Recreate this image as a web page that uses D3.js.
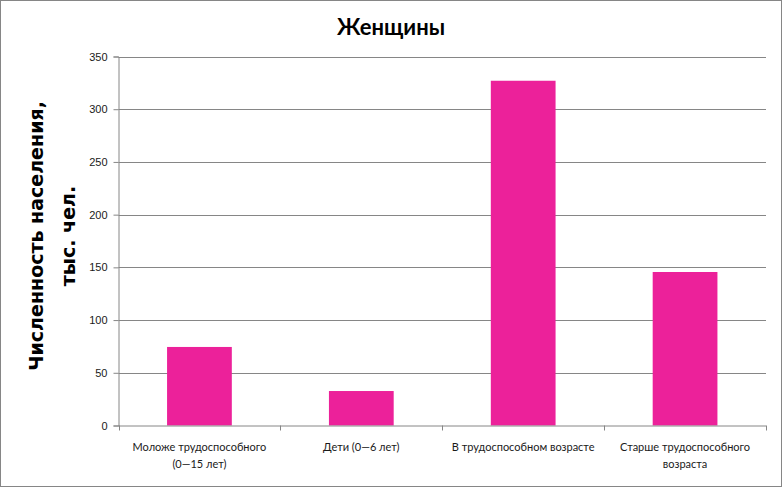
<!DOCTYPE html>
<html><head><meta charset="utf-8">
<script src="https://cdn.jsdelivr.net/npm/d3@7"></script>
<style>body{margin:0;background:#fff;}svg{display:block;font-family:Lato,"Open Sans",sans-serif;}</style>
</head><body>
<svg id="c" width="782" height="487"></svg>
<script>
const categories = [["Моложе трудоспособного","(0—15 лет)"],["Дети (0—6 лет)"],["В трудоспособном  возрасте"],["Старше трудоспособного","возраста"]];
const values = [74.5, 32.7, 327, 145.6];
const yTicks = [0,50,100,150,200,250,300,350];
const title = "Женщины";
const yTitle = ["Численность населения,","тыс. чел."];

const svg = d3.select("#c");
svg.append("rect").attr("x",0.5).attr("y",0.5).attr("width",781).attr("height",486).attr("fill","#fff").attr("stroke","#868686");
const L=118.5, R=766, T=56.5, B=425.5;
const x = d3.scaleBand().domain(d3.range(categories.length)).range([L,R]).padding(0);
const y = d3.scaleLinear().domain([0,350]).range([B,T]);
const grey="#868686";
// gridlines
svg.append("g").selectAll("line").data(yTicks.filter(d=>d>0)).join("line")
  .attr("x1",L).attr("x2",R).attr("y1",d=>Math.round(y(d))+0.5).attr("y2",d=>Math.round(y(d))+0.5)
  .attr("stroke",grey).attr("stroke-width",1);
// bars
svg.append("g").selectAll("rect").data(values).join("rect")
  .attr("x",(d,i)=>x(i)+x.bandwidth()*0.3).attr("width",x.bandwidth()*0.4)
  .attr("y",d=>y(d)).attr("height",d=>B-y(d)).attr("fill","#EC219A");
// y axis
const ya = svg.append("g").attr("transform",`translate(${L},0)`).call(d3.axisLeft(y).tickValues(yTicks).tickSize(5).tickPadding(6));
ya.select(".domain").attr("stroke",grey);
ya.selectAll(".tick line").attr("stroke",grey);
ya.selectAll("text").attr("font-size",11).attr("fill","#1a1a1a");
// x axis
svg.append("line").attr("x1",L).attr("x2",R).attr("y1",B+0.5).attr("y2",B+0.5).attr("stroke",grey);
svg.append("g").selectAll("line").data(d3.range(categories.length+1)).join("line")
  .attr("x1",i=>Math.round(L+i*x.bandwidth())+0.5).attr("x2",i=>Math.round(L+i*x.bandwidth())+0.5)
  .attr("y1",B).attr("y2",B+5).attr("stroke",grey);
const cl = svg.append("g").selectAll("text").data(categories).join("text")
  .attr("x",(d,i)=>x(i)+x.bandwidth()/2).attr("y",451).attr("text-anchor","middle")
  .attr("font-size",11).attr("fill","#1a1a1a");
cl.selectAll("tspan").data(d=>d).join("tspan").attr("x",function(){return this.parentNode.getAttribute("x");})
  .attr("dy",(d,i)=>i?17:0).text(d=>d);
// title
svg.append("text").attr("x",391).attr("y",35).attr("text-anchor","middle").attr("font-size",22).attr("font-weight","bold").text(title);
// y title
const yt = svg.append("text").attr("transform","translate(0,236) rotate(-90)").attr("text-anchor","middle")
  .attr("font-family","'DejaVu Sans',sans-serif").attr("font-size",19).attr("font-weight","bold");
yt.selectAll("tspan").data(yTitle).join("tspan").attr("x",0).attr("y",(d,i)=>i?75:43).text(d=>d);
</script>
</body></html>
